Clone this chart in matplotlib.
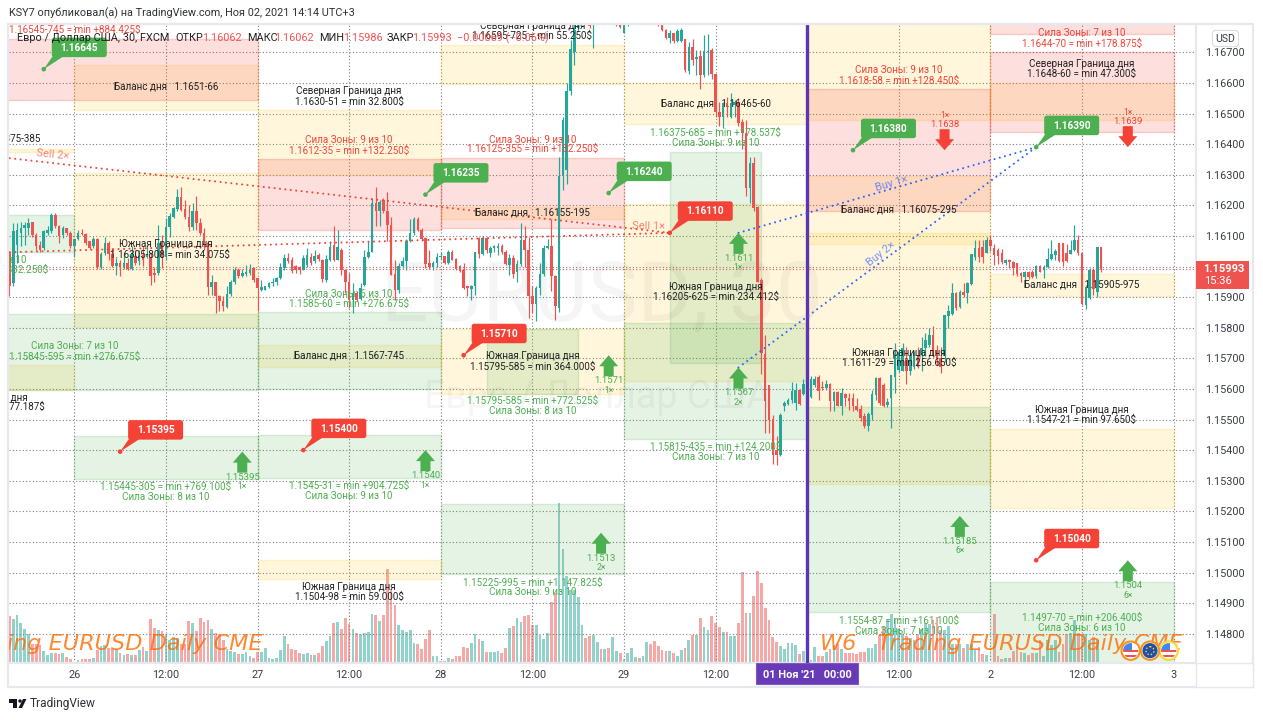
import matplotlib
matplotlib.use("Agg")
import matplotlib.pyplot as plt
from matplotlib.patches import Rectangle, Polygon, FancyBboxPatch, Circle
from matplotlib.transforms import Affine2D

plt.rcParams["font.family"] = ["Roboto", "DejaVu Sans"]

# 30-minute candles per session, (open, close, high, low) as 1.xxxxx price points
session_oct25 = [(16049,15935,16049,15903),(15946,16115,16142,15937),(16071,16120,16142,16011),(16111,16125,16144,16066),
(16125,16136,16144,16071),(16125,16142,16158,16104),(16144,16104,16147,16098),(16104,16068,16109,16055),(16071,16055,16082,16049),
(16060,16115,16120,16053),(16111,16120,16131,16104),(16115,16169,16174,16111),(16169,16131,16174,16125),(16131,16100,16136,16076),
(16104,16125,16131,16093),(16125,16109,16127,16104),(16109,16066,16115,16060)]
session_oct26 = [(16066,16090,16090,16031),(16090,16111,16120,16087),(16109,16105,16122,16104),(16107,16076,16109,16071),
(16082,16062,16084,16057),(16066,16090,16096,16060),(16090,15998,16093,15992),(15998,16042,16046,15992),(16044,16076,16098,16038),
(16076,16042,16082,16022),(16042,16003,16060,15998),(16003,16013,16028,15973),(16013,15998,16022,15970),(15998,16011,16049,15992),
(16011,15992,16028,15987),(15992,16042,16066,15987),(16035,16011,16055,16006),(16017,16035,16053,16006),(16038,16022,16066,16003),
(16031,16038,16071,16028),(16031,15968,16044,15941),(15979,15973,15998,15951),(15979,16076,16136,15973),(16076,16028,16104,15995),
(16031,16129,16158,16022),(16129,16166,16174,16098),(16163,16191,16196,16158),(16187,16226,16253,16180),(16226,16185,16259,16180),
(16187,16161,16216,16155),(16161,16129,16201,16115),(16129,16180,16207,16120),(16180,16142,16229,16120),(16142,16109,16158,16104),
(16111,16074,16125,16055),(16076,15933,16082,15908),(15933,15948,15973,15908),(15948,15903,15948,15848),(15903,15886,15908,15854),
(15886,15870,15903,15854),(15868,15911,15935,15865),(15911,15951,15957,15905),(15951,15987,15998,15944),(15987,15968,15995,15962),
(15968,15979,15992,15966),(15977,15981,16006,15968),(15979,15992,16009,15973),(15995,15957,15998,15951)]
session_oct27 = [(15962,15930,15962,15854),(15922,15933,15957,15919),(15924,15935,15937,15922),(15933,15946,15951,15930),
(15946,15951,15962,15937),(15948,15962,15966,15941),(15962,15998,16011,15959),(15995,16028,16042,15987),(16028,16017,16044,16011),
(16022,15984,16031,15979),(16003,15987,16006,15979),(15998,15987,16003,15975),(15990,16028,16038,15987),(16006,16038,16060,16000),
(16031,16013,16044,16006),(16017,16035,16053,16011),(16038,16024,16044,16017),(16022,15959,16024,15951),(15957,16024,16038,15951),
(16022,16063,16082,16017),(16071,16022,16133,16017),(16022,16063,16118,16022),(16055,15987,16060,15973),(15987,15948,15992,15913),
(15951,15892,15979,15865),(15892,15913,15946,15848),(15913,15892,15919,15886),(15894,15930,15946,15892),(15941,16031,16055,15937),
(16031,16049,16082,16028),(16049,16209,16223,16046),(16209,16180,16259,16131),(16180,16212,16218,16131),(16218,16180,16225,16175),
(16180,16136,16242,16082),(16136,15973,16163,15973),(15976,15924,16022,15892),(15924,16003,16011,15913),(16003,16017,16030,15995),
(16017,16082,16087,15990),(16085,16109,16155,16079),(16109,16155,16161,16104),(16155,16120,16161,16115),(16120,16090,16125,16082),
(16093,16009,16096,15995),(16011,15998,16053,15992),(15998,16011,16017,15990),(16011,16031,16044,15998)]
session_oct28 = [(16031,16035,16049,16025),(16033,16011,16035,16009),(16011,16049,16053,16009),(16049,16022,16053,16020),
(16024,15992,16028,15990),(16003,15984,16006,15981),(15987,15930,16011,15927),(15935,15930,15937,15903),(15927,15937,15941,15892),
(15935,16046,16049,15908),(16093,16042,16096,16028),(16042,16093,16100,16038),(16093,16053,16098,16044),(16044,16060,16068,16031),
(16060,16066,16071,16049),(16060,16068,16076,16038),(16068,16046,16074,16042),(16049,16009,16053,16006),(16006,16028,16042,15973),
(16028,15976,16038,15962),(15981,16009,16022,15951),(16009,16087,16142,16003),(16087,16053,16131,15998),(16055,15903,16096,15832),
(15903,15879,15935,15848),(15879,15930,15937,15821),(15930,15976,16011,15908),(15976,16060,16071,15968),(16060,16066,16089,16056),
(16066,15968,16155,15919),(15970,15872,15973,15824),(15865,16297,16358,15850),(16297,16479,16490,16250),(16315,16574,16600,16270),
(16574,16710,16740,16560),(16700,16772,16795,16660),(16780,16800,16830,16770),(16800,16820,16850,16790),(16820,16810,16840,16800),
(16795,16786,16830,16780),(16790,16830,16850,16715),(16830,16850,16870,16810),(16850,16835,16880,16820),(16835,16845,16860,16820),
(16845,16815,16860,16805),(16815,16825,16840,16800),(16788,16800,16830,16785),(16797,16783,16820,16780)]
session_oct29 = [(16762,16790,16830,16762),(16790,16810,16830,16785),(16810,16835,16850,16800),(16835,16850,16870,16825),
(16850,16830,16865,16820),(16830,16845,16860,16815),(16845,16860,16880,16835),(16860,16840,16870,16830),(16840,16825,16850,16810),
(16825,16790,16830,16785),(16790,16773,16795,16770),(16773,16747,16776,16745),(16747,16763,16773,16730),(16763,16738,16763,16730),
(16738,16770,16775,16735),(16738,16773,16778,16733),(16742,16642,16745,16635),(16640,16718,16735,16630),(16718,16675,16742,16660),
(16677,16686,16707,16626),(16688,16626,16707,16580),(16626,16705,16756,16620),(16702,16705,16760,16626),(16708,16629,16714,16613),
(16629,16506,16630,16488),(16506,16490,16539,16459),(16490,16533,16539,16453),(16533,16520,16555,16490),(16490,16534,16567,16485),
(16528,16539,16544,16490),(16539,16470,16550,16459),(16473,16435,16482,16383),(16435,16257,16479,16230),(16257,16337,16359,16207),
(16337,16190,16359,16182),(16195,15950,16198,15948),(15956,15717,15961,15650),(15715,15559,15777,15456),(15614,15497,15614,15456),
(15502,15385,15516,15353),(15402,15385,15445,15350),(15385,15516,15521,15380),(15543,15554,15559,15527),(15552,15565,15570,15549),
(15565,15592,15624,15554),(15554,15595,15619,15532),(15595,15552,15600,15549),(15584,15617,15632,15581),(15619,15610,15652,15576)]
session_nov01 = [(15573,15632,15641,15570),(15614,15632,15641,15605),(15639,15592,15646,15565),(15606,15602,15625,15595),
(15602,15617,15630,15598),(15617,15559,15619,15527),(15559,15589,15592,15527),(15589,15545,15592,15543),(15545,15586,15603,15516),
(15584,15570,15586,15543),(15570,15559,15586,15530),(15570,15543,15586,15527),(15545,15530,15570,15527),(15534,15505,15548,15494),
(15510,15480,15521,15472),(15480,15518,15526,15461),(15515,15584,15597,15499),(15581,15637,15640,15564),(15637,15553,15640,15548),
(15613,15545,15620,15542),(15546,15557,15570,15540),(15570,15646,15646,15472),(15640,15706,15749,15586),(15662,15722,15730,15655),
(15657,15733,15749,15657),(15700,15657,15738,15616),(15657,15711,15722,15646),(15673,15716,15725,15665),(15711,15673,15738,15667),
(15711,15733,15771,15657),(15733,15760,15782,15706),(15744,15776,15798,15738),(15776,15711,15806,15706),(15727,15700,15744,15678),
(15700,15673,15738,15653),(15706,15841,15841,15689),(15838,15856,15874,15798),(15845,15914,15945,15841),(15914,15863,15917,15858),
(15869,15917,15923,15863),(15917,15907,15947,15901),(15912,15945,15950,15882),(15943,16040,16042,15939),(16032,16062,16086,16021),
(16062,16032,16086,16015),(16064,16032,16086,16012),(16045,16086,16095,16043),(16086,16066,16102,16051)]
session_nov02 = [(16059,16037,16075,16004),(16053,16034,16059,16008),(16043,16015,16056,16008),(16012,16021,16025,16005),
(16021,16015,16026,15994),(16015,15994,16019,15972),(16010,15977,16012,15969),(15979,15969,15983,15950),(15966,15983,15986,15950),
(15983,15966,15985,15960),(15983,15966,15988,15961),(15969,16001,16004,15961),(16001,15983,16004,15981),(15990,15999,16004,15964),
(15997,16026,16059,15994),(16023,16040,16086,16021),(16037,16051,16056,16021),(16077,16019,16077,16015),(16077,16015,16077,16001),
(16043,16019,16075,16015),(16040,16053,16086,16040),(16053,16086,16135,16051),(16086,16045,16102,16037),(16045,15879,16048,15874),
(15874,15934,15940,15860),(15896,15990,15994,15893),(15988,15928,15994,15907),(15918,16064,16064,15901),(16064,15993,16064,15983)]

# Tick volume of the same bars
volume_oct25 = [46.7,43.7,48,40,34,28.7,19,19,18,12,8,10,10,9,10,6,4]
volume_oct26 = [1,3,3.5,3.7,3.7,4.3,13,17,17.7,15,14,14,10,8,9,8,8,13,16,12,44,35,33,32,29,23,26,25,19,19,42,40,32,45,41,43,34,30,29,23,14,12,11,9,9,11,7,5]
volume_oct27 = [11,11,15,5,3.7,4.7,12.7,26.7,18.7,14,12.7,10,9,10,8,7.7,10,16.7,22,26.7,40,41,33.7,45,38.7,33.7,30,28.7,30,31,49,47.7,41.7,48,93.7,74,58,37.7,32.7,31,32.7,20,18.7,13.7,23.7,32.7,6.7,6.7]
volume_oct28 = [1.7,2,4.3,3.7,6.7,6.7,15.3,14.3,19.3,28.7,23.7,22,11,11,10.3,11.7,10,15,34.3,36.7,45,40.3,46.7,47.7,37.7,37.7,27.7,23.7,29.3,60.3,69.3,160,114,86.7,73,73,66,38,25,26.7,28,20.3,13.7,13.7,14.7,26,11.7,9.3]
volume_oct29 = [3.3,9.3,14.7,6,5,6.7,20.3,18.7,22,17,12.7,11.7,11.3,9.3,7,12.7,15,22.7,27.7,27.7,45,36,32.7,46.7,39.3,36,31,31,27,27,39.3,90.3,49.3,49.3,66.7,92,79.3,54.3,42.7,25.3,21,17,13.3,19.3,19.3,17.7,8.3,11.7]
volume_nov01 = [2.7,2.7,15.3,6.7,6.7,11,14,17.7,19,14,10,10,10,9,11,11,15,15,19,27.7,36,42.7,49,44,34,29,27,25,23,29,34,40,39,43,46,33,33,37,19,19,19,15,19,19,13,16,8.7,7.7]
volume_nov02 = [1,48.7,6.7,3.7,5,5,12,16,11,10,7.7,9.3,9.3,23,6.7,23,18,23,11,19,29,30,42.7,30,29,29,23,26,23]

# Daily zones: (first bar, last bar, lower price, upper price)
supply_zones = [(-48,48,1.16545,1.16745),(48,96,1.1612,1.1635),(96,144,1.16125,1.16355),(192,240,1.1618,1.1658),
                (240,288,1.1644,1.1670),(240,288,1.1676,1.1690)]
range_zones = [(0,48,1.1651,1.1666),(-48,0,1.16375,1.16385),(0,48,1.15802,1.16305),(-48,0,1.15595,1.15678),
               (48,96,1.1630,1.1651),(48,96,1.1567,1.15745),(48,96,1.1498,1.1504),
               (96,144,1.16595,1.16725),(96,144,1.16155,1.16195),(96,144,1.15585,1.15795),
               (144,192,1.16465,1.1660),(144,192,1.15625,1.16205),
               (192,240,1.1648,1.1690),(192,240,1.16075,1.16295),(192,240,1.1529,1.1611),
               (240,288,1.1648,1.1660),(240,288,1.15905,1.15975),(240,288,1.1521,1.1547)]
demand_zones = [(-48,0,1.16047,1.16168),(-48,48,1.15595,1.15845),(0,48,1.15305,1.15445),(48,96,1.1560,1.1585),
                (48,96,1.1531,1.1545),(96,144,1.14995,1.15225),(108,132,1.15585,1.15795),(156,180,1.15685,1.16375),
                (144,192,1.15435,1.15815),(192,240,1.1487,1.1554),(240,288,1.1470,1.1497)]

# Price callouts: (bar, price)
green_callouts = [(-8,1.16645),(92,1.16235),(140,1.16240),(204,1.16380),(252,1.16390)]
red_callouts = [(156,1.16110),(102,1.15710),(12,1.15395),(60,1.15400),(252,1.15040)]

# Entry arrows: (bar, price, price label, size label)
buy_arrows = [(44,1.15395,"1.15395","1×"),(92,1.1540,"1.1540","1×"),(140,1.1571,"1.1571","1×"),(138,1.1513,"1.1513","2×"),
              (174,1.1611,"1.1611","1×"),(174,1.1567,"1.1567","2×"),(232,1.15185,"1.15185","6×"),(276,1.1504,"1.1504","6×")]
sell_arrows = [(228,1.1638,"1.1638","1×"),(276,1.1639,"1.1639","1×")]

# Trade connectors: (bar, price) at both ends
sell_lines = [((-24,1.16364),(156,1.1611)),((-24,1.16044),(156,1.1611))]
buy_lines = [((174,1.1611),(252,1.1639)),((174,1.1567),(252,1.1639))]

RED, GREEN, BLACK = "#f44336", "#4caf50", "#222222"
# Zone captions: (text, bar, price, colour), two lines of a caption are separate rows
zone_captions = [
 ("1.16545-745 = min +884.425$",0,1.16773,RED),
 ("Баланс дня   1.1651-66",24,1.16587,BLACK),
 ("Северная Граница дня",72,1.16574,BLACK),("1.1630-51 = min 32.800$",72,1.16539,BLACK),
 ("Баланс дня   1.16375-385",-24,1.16417,BLACK),
 ("Сила Зоны: 9 из 10",72,1.16413,RED),("1.1612-35 = min +132.250$",72,1.16379,RED),
 ("Южная Граница дня",24,1.16072,BLACK),("1.16305-808 = min 34.075$",25,1.16039,BLACK),
 ("Сила Зоны: 7 из 10",0,1.15739,GREEN),("1.15845-595 = min +276.675$",0,1.15706,GREEN),
 ("Сила Зоны: 6 из 10",72,1.15910,GREEN),("1.1585-60 = min +276.675$",72,1.15879,GREEN),
 ("Баланс дня   1.1567-745",72,1.15709,BLACK),
 ("1.15445-305 = min +769.100$",24,1.15279,GREEN),("Сила Зоны: 8 из 10",24,1.15247,GREEN),
 ("1.1545-31 = min +904.725$",72,1.15283,GREEN),("Сила Зоны: 9 из 10",72,1.15250,GREEN),
 ("Южная Граница дня",72,1.14953,BLACK),("1.1504-98 = min 59.000$",72,1.14920,BLACK),
 ("Северная Граница дня",120,1.16786,BLACK),("1.16595-725 = min 55.250$",120,1.16755,BLACK),
 ("Сила Зоны: 9 из 10",120,1.16415,RED),("1.16125-355 = min +132.250$",120,1.16384,RED),
 ("Баланс дня,  1.16155-195",120,1.16177,BLACK),
 ("Южная Граница дня",120,1.15706,BLACK),("1.15795-585 = min 364.000$",120,1.15673,BLACK),
 ("1.15795-585 = min +772.525$",120,1.15561,GREEN),("Сила Зоны: 8 из 10",120,1.15528,GREEN),
 ("1.15225-995 = min +1.147.825$",120,1.14966,GREEN),("Сила Зоны: 9 из 10",120,1.14935,GREEN),
 ("Баланс дня   1.16465-60",168,1.16534,BLACK),
 ("1.16375-685 = min +178.537$",168,1.16436,GREEN),("Сила Зоны: 9 из 10",168,1.16404,GREEN),
 ("Южная Граница дня",168,1.15933,BLACK),("1.16205-625 = min 234.412$",168,1.15900,BLACK),
 ("1.15815-435 = min +124.200$",168,1.15410,GREEN),("Сила Зоны: 7 из 10",168,1.15376,GREEN),
 ("Сила Зоны: 9 из 10",216,1.16641,RED),("1.1618-58 = min +128.450$",216,1.16608,RED),
 ("Баланс дня   1.16075-295",216,1.16186,BLACK),
 ("Южная Граница дня",216,1.15717,BLACK),("1.1611-29 = min 256.650$",216,1.15685,BLACK),
 ("1.1554-87 = min +161.100$",216,1.14843,GREEN),("Сила Зоны: 7 из 10",216,1.14809,GREEN),
 ("Сила Зоны: 7 из 10",264,1.16762,RED),("1.1644-70 = min +178.875$",264,1.16729,RED),
 ("Северная Граница дня",264,1.16663,BLACK),("1.1648-60 = min 47.300$",264,1.16631,BLACK),
 ("Баланс дня   1.15905-975",264,1.15941,BLACK),
 ("Южная Граница дня",264,1.15531,BLACK),("1.1547-21 = min 97.650$",264,1.15498,BLACK),
 ("1.1497-70 = min +206.400$",264,1.14851,GREEN),("Сила Зоны: 6 из 10",264,1.14819,GREEN),
]
# Captions of zones whose centre falls left of the visible range
clipped_captions = [
 ("Сила Зоны: 9 из 10",-12.4,1.16022,GREEN),("1.1609-47 = min +332.250$",-6.9,1.15990,GREEN),
 ("Южная Граница дня",-12.1,1.15570,BLACK),("1.15678-595 = min 77.187$",-7.7,1.15540,BLACK),
]

price_ticks = [1.167,1.166,1.165,1.164,1.163,1.162,1.161,1.160,1.159,1.158,1.157,1.156,1.155,1.154,1.153,1.152,1.151,1.150,1.149,1.148]
time_ticks = [0,24,48,72,96,120,144,168,192,216,240,264,288]
time_labels = ["26","12:00","27","12:00","28","12:00","29","12:00","","12:00","2","12:00","3"]
last_price = 1.15993
session_break = 192

W, H = 1263, 720
fig = plt.figure(figsize=(W/100, H/100), dpi=100, facecolor="white")
# Image-style pixel coordinates for the surrounding chrome
px = Affine2D().scale(1, -1).translate(0, H)

L, R, T, B = 9, 1196, 24, 662.7
rect = [L/W, 1-B/H, (R-L)/W, (B-T)/H]
ax_vol = fig.add_axes(rect)
ax = fig.add_axes(rect)
ax.patch.set_alpha(0)

xlim = (-17.108, 293.87)
ylim = (1.147053, 1.167925)
ax.set_xlim(*xlim); ax.set_ylim(*ylim)
ax_vol.set_xlim(*xlim); ax_vol.set_ylim(0, B-T)
ax_vol.axis("off")

rows = session_oct25+session_oct26+session_oct27+session_oct28+session_oct29+session_nov01+session_nov02
volumes = volume_oct25+volume_oct26+volume_oct27+volume_oct28+volume_oct29+volume_nov01+volume_nov02
bars = list(range(-17, -17+len(rows)))
price = lambda v: 1 + v/1e5
UP, DOWN = "#26a69a", "#ef5350"
colors = [UP if r[1] >= r[0] else DOWN for r in rows]

ax_vol.bar(bars[:len(volumes)], volumes, width=0.72, color=colors[:len(volumes)], alpha=0.5, linewidth=0)

# Grid
ax.set_yticks(price_ticks)
ax.set_yticklabels([f"{p:.5f}" for p in price_ticks], fontsize=7.8, color="#3a3d45")
ax.set_xticks(time_ticks)
ax.set_xticklabels(time_labels, fontsize=7.8, color="#3a3d45")
ax.yaxis.tick_right()
ax.tick_params(axis="y", length=0, pad=6.6)
ax.tick_params(axis="x", length=0, pad=5.5)
ax.grid(True, color="#7f7f7f", lw=0.8, linestyle=(0, (1, 2)), zorder=0)
ax.set_axisbelow(True)
for s in ("top", "left"):
    ax.spines[s].set_visible(False)
for s in ("right", "bottom"):
    ax.spines[s].set_color("#e6e8ee"); ax.spines[s].set_linewidth(1.6)

# Zones
def draw_zones(zones, rgb, alpha):
    for x0, x1, lo, hi in zones:
        ax.add_patch(Rectangle((x0, lo), x1-x0, hi-lo, facecolor=rgb+(alpha,), edgecolor=rgb+(alpha*1.3,), linewidth=1.0, zorder=1))
draw_zones(range_zones, (1.0, 0.76, 0.03), 0.14)
draw_zones(supply_zones, (0.957, 0.263, 0.212), 0.17)
draw_zones(demand_zones, (0.298, 0.686, 0.314), 0.15)

# Watermarks
ax.text(602, 298, "EURUSD, 30", transform=px, fontsize=60, color=(0, 0, 0, 0.04), ha="center", va="center", zorder=1.2, clip_on=True)
ax.text(597, 398, "Евро / Доллар США", transform=px, fontsize=27, color=(0, 0, 0, 0.04), ha="center", va="center", zorder=1.2, clip_on=True)

# Candles
ax.vlines(bars, [price(r[3]) for r in rows], [price(r[2]) for r in rows], colors=colors, linewidth=0.85, zorder=3)
ax.bar(bars, [price(r[1])-price(r[0]) for r in rows], bottom=[price(r[0]) for r in rows], width=0.68, color=colors, linewidth=0, zorder=3)

# Session break and last price
ax.axvline(session_break, color="#5e35b1", lw=2.4, zorder=4)
ax.axhline(last_price, color="#ef5350", lw=0.8, linestyle=(0, (1, 2)), zorder=3)

# Connectors
for (a, b), col in [(l, RED) for l in sell_lines] + [(l, "#2962ff") for l in buy_lines]:
    ax.plot([a[0], b[0]], [a[1], b[1]], color=col, lw=1.5, linestyle=(0, (0.01, 2.6)), zorder=5, dash_capstyle="round")
ax.text(53, 155, "Sell 2×", transform=px, color=RED, alpha=0.65, fontsize=8, rotation=-6, ha="center", va="center", zorder=5)
ax.text(649, 226, "Sell 1×", transform=px, color=RED, alpha=0.65, fontsize=8, rotation=-1, ha="center", va="center", zorder=5)
ax.text(892, 184, "Buy 1×", transform=px, color="#2962ff", alpha=0.65, fontsize=8, rotation=16, ha="center", va="center", zorder=5)
ax.text(881, 254, "Buy 2×", transform=px, color="#2962ff", alpha=0.65, fontsize=8, rotation=38, ha="center", va="center", zorder=5)

# Captions
for text, bar, p, col in zone_captions:
    ax.text(bar, p, text, fontsize=7.15, color=col, ha="center", va="center", zorder=6, clip_on=True)
for text, bar, p, col in clipped_captions:
    ax.text(bar, p, text, fontsize=7.15, color=col, ha="right", va="center", zorder=6, clip_on=True)

def anchored(bar, p):
    x, y = ax.transData.transform((bar, p))
    return Affine2D().translate(x, y)

# Callouts
def callout(bar, p, col):
    tr = anchored(bar, p)
    ax.add_patch(Polygon([(0, 0), (9, 13), (20, 13)], closed=True, color=col, transform=tr, zorder=7, linewidth=0))
    ax.add_patch(Circle((0, 0), 1.6, color=col, transform=tr, zorder=7))
    ax.add_patch(FancyBboxPatch((10, 14), 51, 15.5, boxstyle="round,pad=2,rounding_size=2.5", fc=col, ec="none", transform=tr, zorder=7))
    ax.text(35.5, 21.5, f"{p:.5f}", color="white", fontsize=7.3, fontweight="bold", ha="center", va="center", transform=tr, zorder=8)
for bar, p in green_callouts:
    callout(bar, p, GREEN)
for bar, p in red_callouts:
    callout(bar, p, RED)

# Entry arrows
ARROW = [(0, 0), (9.5, -11), (5, -11), (5, -21), (-5, -21), (-5, -11), (-9.5, -11)]
for bar, p, lab, mult in buy_arrows:
    tr = anchored(bar, p)
    ax.add_patch(Polygon(ARROW, closed=True, color=GREEN, transform=tr, zorder=7, linewidth=0))
    ax.text(0, -25.5, lab, color=GREEN, fontsize=6.8, ha="center", va="center", transform=tr, zorder=8)
    ax.text(0, -35, mult, color=GREEN, fontsize=6.2, ha="center", va="center", transform=tr, zorder=8)
for bar, p, lab, mult in sell_arrows:
    tr = anchored(bar, p)
    ax.add_patch(Polygon([(x, -y) for x, y in ARROW], closed=True, color=RED, transform=tr, zorder=7, linewidth=0))
    ax.text(0, 26, lab, color=RED, fontsize=6.8, ha="center", va="center", transform=tr, zorder=8)
    ax.text(0, 35, mult, color=RED, fontsize=6.2, ha="center", va="center", transform=tr, zorder=8)

# Signature text at the foot of the chart
ORANGE = (1.0, 0.42, 0.0, 0.8)
ax.text(820, 644, "W6   Trading EURUSD Daily CME", transform=px, color=ORANGE, fontsize=16.15, style="italic",
        family="DejaVu Sans", ha="left", va="center", zorder=6, clip_on=True)
ax.text(263, 644, "W6   Trading EURUSD Daily CME", transform=px, color=ORANGE, fontsize=16.15, style="italic",
        family="DejaVu Sans", ha="right", va="center", zorder=6, clip_on=True)

# Flag badges
def badge(cx, ring):
    cy = 650.7
    ax.add_patch(Circle((cx, cy), 9.2, fc="white", ec=ring, lw=1.5, transform=px, zorder=8))
    clip = Circle((cx, cy), 7.6, transform=px)
    return cy, clip
for cx, ring in [(1130.7, "#f7931e"), (1168.7, "#fdd835")]:
    cy, clip = badge(cx, ring)
    for dy in (-1, 4):
        s = ax.add_patch(Rectangle((cx-8, cy+dy), 16, 2.6, fc="#ef5350", ec="none", transform=px, zorder=8.2))
        s.set_clip_path(clip)
    c = ax.add_patch(Rectangle((cx-8, cy-8), 9, 7, fc="#4285f4", ec="none", transform=px, zorder=8.3))
    c.set_clip_path(clip)
cy, clip = badge(1150, "#f7931e")
ax.add_patch(Circle((1150, cy), 7.6, fc="#1f4fa8", ec="none", transform=px, zorder=8.2))
ax.add_patch(Circle((1150, cy), 4, fc="none", ec="#fdd835", lw=1, ls=(0, (1, 1.5)), transform=px, zorder=8.3))

# Surrounding chrome
fig.add_artist(Rectangle((8, 24), 1245, 663, fc="none", ec="#e6e8ee", lw=1.6, transform=px))
fig.add_artist(Rectangle((R, B), 57, 24, fc="white", ec="#e6e8ee", lw=1.0, transform=px))
fig.text(9, 13, "KSY7 опубликовал(а) на TradingView.com, Ноя 02, 2021 14:14 UTC+3", transform=px, fontsize=7.8, color="#2f3138", va="center")

# Symbol legend
legend_parts = [(17, "Евро / Доллар США, 30, FXCM", BLACK), (175, "ОТКР", BLACK), (201.7, "1.16062", DOWN), (246.7, "МАКС", BLACK),
                (274, "1.16062", DOWN), (319.3, "МИН", BLACK), (342.7, "1.15986", DOWN), (386.7, "ЗАКР", BLACK), (412, "1.15993", DOWN),
                (457, "−0.00069 (−0.06%)", DOWN)]
for x, s, col in legend_parts:
    ax.text(x, 38, s, transform=px, fontsize=7.8, color=col, va="center", ha="left", zorder=9)

# Crosshair date on the time scale
fig.add_artist(Rectangle((755.7, 663), 102.6, 21, fc="#673ab7", ec="#7e57c2", lw=0.8, transform=px))
fig.text(807, 675.5, "01 Ноя '21   00:00", transform=px, fontsize=7.9, color="white", fontweight="bold", ha="center", va="center")

# Last price tag
fig.add_artist(Rectangle((1196, 260.7), 53, 28, fc="#ef5350", ec="none", transform=px))
fig.text(1224, 268.5, "1.15993", transform=px, fontsize=8, color="white", fontweight="bold", ha="center", va="center")
fig.text(1218, 281, "15:36", transform=px, fontsize=8, color="white", ha="center", va="center")

# Currency button
fig.add_artist(FancyBboxPatch((1214, 32), 23, 13, boxstyle="round,pad=1.5,rounding_size=3", fc="white", ec="#d9dce3", lw=0.8, transform=px))
fig.text(1225.5, 38.5, "USD", transform=px, fontsize=7.6, color="#3a3d45", ha="center", va="center")

# Wordmark
for pts in ([(9, 699), (17, 699), (17, 708), (13, 708), (13, 702.5), (9, 702.5)],
            [(23, 699), (26.5, 699), (22, 708), (18.5, 708)]):
    fig.add_artist(Polygon(pts, closed=True, fc="#131722", ec="none", transform=px))
fig.add_artist(Circle((20, 701), 1.7, fc="#131722", ec="none", transform=px))
fig.text(30, 703.5, "TradingView", transform=px, fontsize=8.6, color="#2f3138", va="center")

fig.savefig("out.png", dpi=100, facecolor="white")
